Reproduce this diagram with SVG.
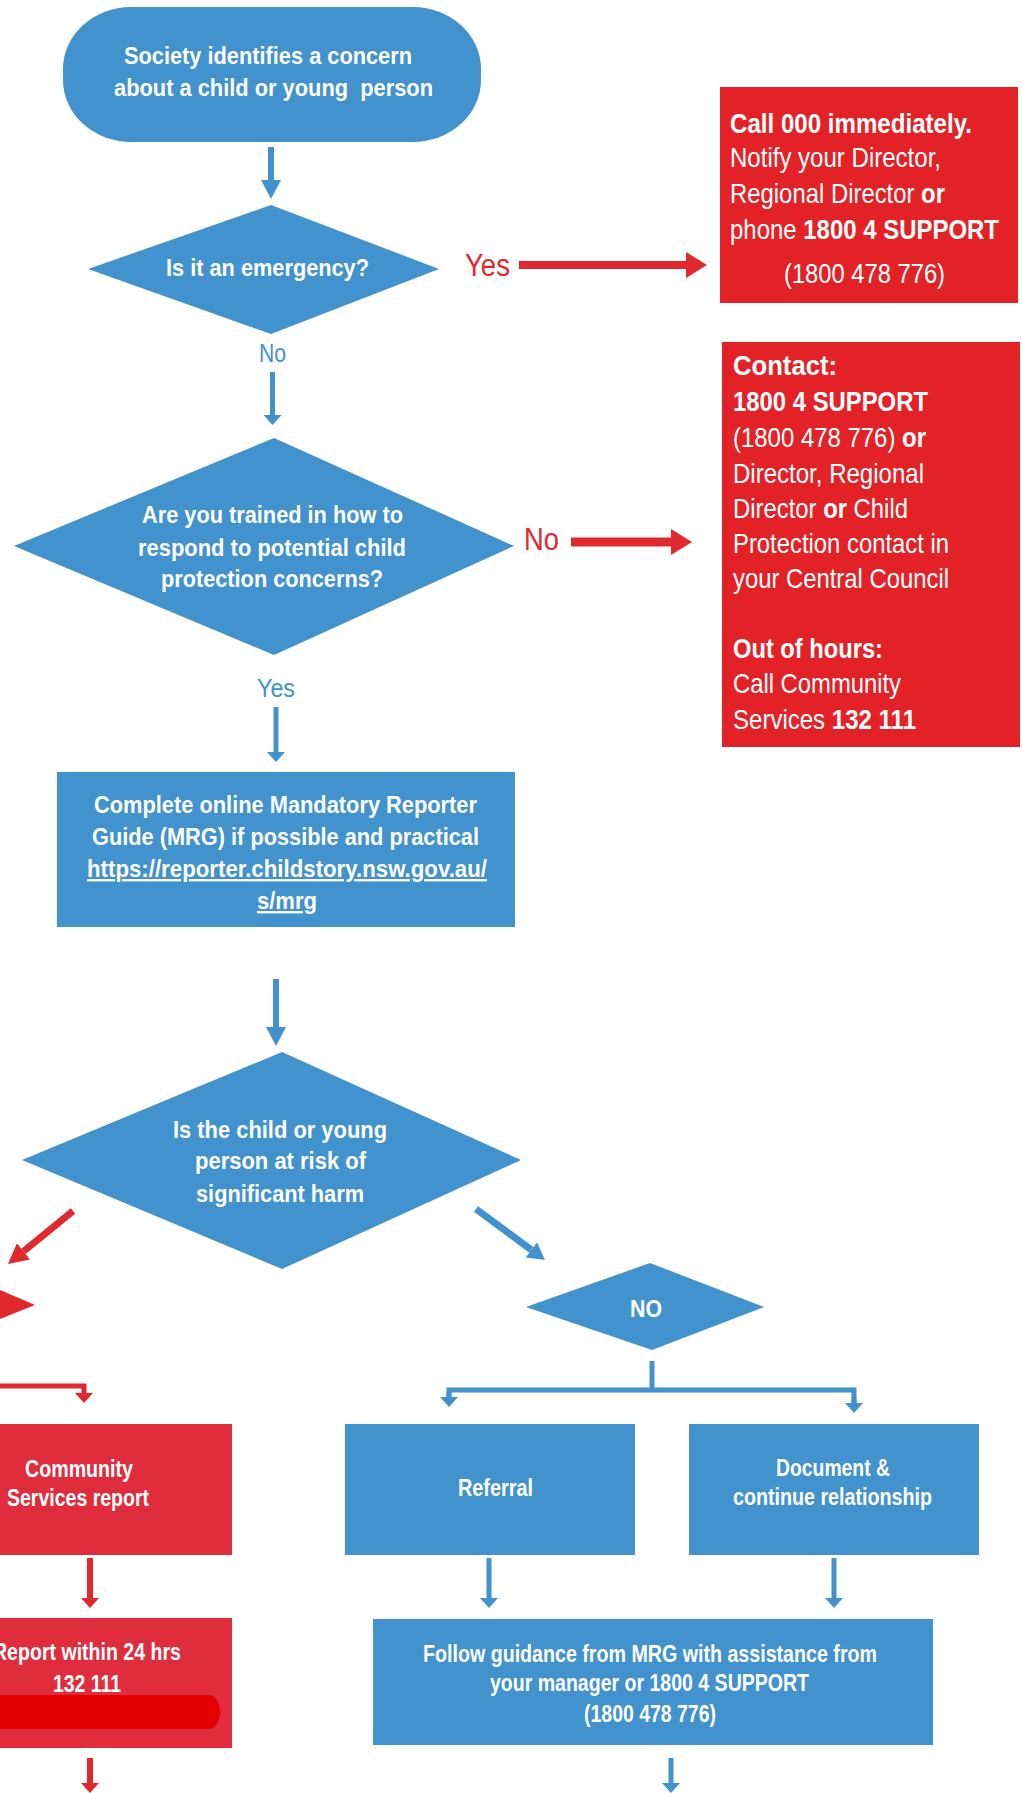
<svg xmlns="http://www.w3.org/2000/svg" width="1022" height="1793" viewBox="0 0 1022 1793">
<style>
.b{fill:#4192cd}
.rt{fill:#e32228}
.rb{fill:#df2d3d}
.t{font-family:"Liberation Sans Narrow","Liberation Sans",Arial,sans-serif;font-size:24px;font-weight:bold;fill:#fff}
.rr{font-size:28px;font-weight:normal}
.bo{font-weight:bold}
.lab{font-family:"Liberation Sans Narrow","Liberation Sans",Arial,sans-serif;font-weight:normal}
.lb{fill:#4192cd;font-size:26px}
.lr{fill:#e0282f;font-size:31px}
.u{text-decoration:underline}
.cb{stroke:#4192cd;fill:none}
.cr{stroke:#e0282f;fill:none}
</style>
<defs>
<marker id="mbL" markerUnits="userSpaceOnUse" markerWidth="19" markerHeight="20" refX="0" refY="10" orient="auto"><path d="M0,0 L19,10 L0,20 z" fill="#4192cd"/></marker>
<marker id="mbS" markerUnits="userSpaceOnUse" markerWidth="10" markerHeight="18" refX="0" refY="9" orient="auto"><path d="M0,0 L10,9 L0,18 z" fill="#4192cd"/></marker>
<marker id="mbD" markerUnits="userSpaceOnUse" markerWidth="17" markerHeight="19" refX="0" refY="9.5" orient="auto"><path d="M0,0 L17,9.5 L0,19 z" fill="#4192cd"/></marker>
<marker id="mrL" markerUnits="userSpaceOnUse" markerWidth="21" markerHeight="26" refX="0" refY="13" orient="auto"><path d="M0,0 L21,13 L0,26 z" fill="#e0282f"/></marker>
<marker id="mrS" markerUnits="userSpaceOnUse" markerWidth="10" markerHeight="18" refX="0" refY="9" orient="auto"><path d="M0,0 L10,9 L0,18 z" fill="#e0282f"/></marker>
<marker id="mrD" markerUnits="userSpaceOnUse" markerWidth="20" markerHeight="21" refX="0" refY="10.5" orient="auto"><path d="M0,0 L20,10.5 L0,21 z" fill="#e0282f"/></marker>
</defs>
<rect width="1022" height="1793" fill="#fff"/>

<g id="connectors">
<line class="cb" x1="271" y1="147" x2="271" y2="180" stroke-width="6" marker-end="url(#mbL)"/>
<line class="cr" x1="519" y1="265" x2="686" y2="265" stroke-width="8" marker-end="url(#mrL)"/>
<line class="cb" x1="272.5" y1="372" x2="272.5" y2="415" stroke-width="5" marker-end="url(#mbS)"/>
<line class="cr" x1="571" y1="542" x2="671" y2="542" stroke-width="9" marker-end="url(#mrL)"/>
<line class="cb" x1="276" y1="707" x2="276" y2="752" stroke-width="5" marker-end="url(#mbS)"/>
<line class="cb" x1="276" y1="979" x2="276" y2="1027" stroke-width="6" marker-end="url(#mbL)"/>
<line class="cr" x1="73" y1="1211" x2="23.5" y2="1251.4" stroke-width="7" marker-end="url(#mrD)"/>
<line class="cb" x1="476" y1="1209" x2="531.3" y2="1249.9" stroke-width="7" marker-end="url(#mbD)"/>
<polygon points="0,1290 35,1305 0,1319" fill="#e0282f"/>
<path class="cr" d="M-5,1386 H84 V1393" stroke-width="5" marker-end="url(#mrS)"/>
<line class="cb" x1="652" y1="1361" x2="652" y2="1390" stroke-width="5"/>
<path class="cb" d="M449,1397 V1390 H854 V1403" stroke-width="5"/>
<line class="cb" x1="449" y1="1392" x2="449" y2="1397" stroke-width="5" marker-end="url(#mbS)"/>
<line class="cb" x1="854" y1="1398" x2="854" y2="1403" stroke-width="5" marker-end="url(#mbS)"/>
<line class="cb" x1="489" y1="1558" x2="489" y2="1598" stroke-width="5" marker-end="url(#mbS)"/>
<line class="cb" x1="834" y1="1558" x2="834" y2="1598" stroke-width="5" marker-end="url(#mbS)"/>
<line class="cb" x1="671" y1="1758" x2="671" y2="1783" stroke-width="5" marker-end="url(#mbS)"/>
<line class="cr" x1="90" y1="1558" x2="90" y2="1598" stroke-width="6" marker-end="url(#mrS)"/>
<line class="cr" x1="90" y1="1758" x2="90" y2="1783" stroke-width="6" marker-end="url(#mrS)"/>
<text class="lab lr" x="465" y="276" textLength="45" lengthAdjust="spacingAndGlyphs">Yes</text>
<text class="lab lb" x="259" y="362" textLength="27" lengthAdjust="spacingAndGlyphs">No</text>
<text class="lab lr" x="524" y="550" textLength="35" lengthAdjust="spacingAndGlyphs">No</text>
<text class="lab lb" x="257" y="697" textLength="38" lengthAdjust="spacingAndGlyphs">Yes</text>
</g>

<g id="start">
<rect class="b" x="63" y="7" width="418" height="135" rx="68" ry="62"/>
<text class="t" x="124" y="64" font-size="25" textLength="288" lengthAdjust="spacingAndGlyphs">Society identifies a concern</text>
<text class="t" x="114" y="96" font-size="25" xml:space="preserve" textLength="319" lengthAdjust="spacingAndGlyphs">about a child or young  person</text>
</g>

<g id="emergency">
<polygon class="b" points="271,205 439,269 271,334 88,269"/>
<text class="t" x="166" y="276" font-size="25" textLength="203" lengthAdjust="spacingAndGlyphs">Is it an emergency?</text>
</g>

<g id="call000">
<rect class="rt" x="720" y="87" width="298" height="216"/>
<text class="t rr bo" x="730" y="133" textLength="242" lengthAdjust="spacingAndGlyphs">Call 000 immediately.</text>
<text class="t rr" x="730" y="167" textLength="211" lengthAdjust="spacingAndGlyphs">Notify your Director,</text>
<text class="t rr" x="730" y="203" textLength="215" lengthAdjust="spacingAndGlyphs">Regional Director <tspan class="bo">or</tspan></text>
<text class="t rr" x="730" y="239" textLength="269" lengthAdjust="spacingAndGlyphs">phone <tspan class="bo">1800 4 SUPPORT</tspan></text>
<text class="t rr" x="784" y="283" textLength="161" lengthAdjust="spacingAndGlyphs">(1800 478 776)</text>
</g>

<g id="trained">
<polygon class="b" points="274,438 514,546 274,655 14,546"/>
<text class="t" x="142" y="523" textLength="261" lengthAdjust="spacingAndGlyphs">Are you trained in how to</text>
<text class="t" x="138" y="556" textLength="268" lengthAdjust="spacingAndGlyphs">respond to potential child</text>
<text class="t" x="161" y="587" textLength="222" lengthAdjust="spacingAndGlyphs">protection concerns?</text>
</g>

<g id="contact">
<rect class="rt" x="722" y="342" width="298" height="405"/>
<text class="t rr bo" x="733" y="375" textLength="104" lengthAdjust="spacingAndGlyphs">Contact:</text>
<text class="t rr bo" x="733" y="411" textLength="195" lengthAdjust="spacingAndGlyphs">1800 4 SUPPORT</text>
<text class="t rr" x="733" y="447" textLength="193" lengthAdjust="spacingAndGlyphs">(1800 478 776) <tspan class="bo">or</tspan></text>
<text class="t rr" x="733" y="483" textLength="191" lengthAdjust="spacingAndGlyphs">Director, Regional</text>
<text class="t rr" x="733" y="518" textLength="175" lengthAdjust="spacingAndGlyphs">Director <tspan class="bo">or</tspan> Child</text>
<text class="t rr" x="733" y="553" textLength="216" lengthAdjust="spacingAndGlyphs">Protection contact in</text>
<text class="t rr" x="733" y="588" textLength="216" lengthAdjust="spacingAndGlyphs">your Central Council</text>
<text class="t rr bo" x="733" y="658" textLength="150" lengthAdjust="spacingAndGlyphs">Out of hours:</text>
<text class="t rr" x="733" y="693" textLength="168" lengthAdjust="spacingAndGlyphs">Call Community</text>
<text class="t rr" x="733" y="729" textLength="183" lengthAdjust="spacingAndGlyphs">Services <tspan class="bo">132 111</tspan></text>
</g>

<g id="mrg">
<rect class="b" x="57" y="772" width="458" height="155"/>
<text class="t" x="94" y="813" textLength="383" lengthAdjust="spacingAndGlyphs">Complete online Mandatory Reporter</text>
<text class="t" x="92" y="845" textLength="387" lengthAdjust="spacingAndGlyphs">Guide (MRG) if possible and practical</text>
<text class="t u" x="87" y="877" textLength="400" lengthAdjust="spacingAndGlyphs">https://reporter.childstory.nsw.gov.au/</text>
<text class="t u" x="257" y="909" textLength="60" lengthAdjust="spacingAndGlyphs">s/mrg</text>
</g>

<g id="risk">
<polygon class="b" points="282,1052 521,1160 282,1269 22,1160"/>
<text class="t" x="173" y="1138" textLength="214" lengthAdjust="spacingAndGlyphs">Is the child or young</text>
<text class="t" x="195" y="1169" textLength="171" lengthAdjust="spacingAndGlyphs">person at risk of</text>
<text class="t" x="196" y="1202" textLength="168" lengthAdjust="spacingAndGlyphs">significant harm</text>
</g>

<g id="no-decision">
<polygon class="b" points="650,1263 764,1307 652,1350 526,1307"/>
<text class="t" x="630" y="1317" font-size="25" textLength="32" lengthAdjust="spacingAndGlyphs">NO</text>
</g>

<g id="cs-report">
<rect class="rb" x="-2" y="1424" width="234" height="131"/>
<text class="t" x="25" y="1477" textLength="108" lengthAdjust="spacingAndGlyphs">Community</text>
<text class="t" x="7" y="1506" textLength="142" lengthAdjust="spacingAndGlyphs">Services report</text>
</g>

<g id="report-24">
<rect class="rb" x="-2" y="1618" width="234" height="130"/>
<text class="t" x="-7" y="1660" textLength="188" lengthAdjust="spacingAndGlyphs">Report within 24 hrs</text>
<text class="t" x="53" y="1692" textLength="68" lengthAdjust="spacingAndGlyphs">132 111</text>
<rect x="-30" y="1695" width="250" height="34" rx="11" ry="17" fill="#e30000"/>
</g>

<g id="referral">
<rect class="b" x="345" y="1424" width="290" height="131"/>
<text class="t" x="458" y="1496" textLength="75" lengthAdjust="spacingAndGlyphs">Referral</text>
</g>

<g id="document">
<rect class="b" x="689" y="1424" width="290" height="131"/>
<text class="t" x="776" y="1476" textLength="114" lengthAdjust="spacingAndGlyphs">Document &amp;</text>
<text class="t" x="733" y="1505" textLength="199" lengthAdjust="spacingAndGlyphs">continue relationship</text>
</g>

<g id="follow">
<rect class="b" x="373" y="1619" width="560" height="126"/>
<text class="t" x="423" y="1662" textLength="454" lengthAdjust="spacingAndGlyphs">Follow guidance from MRG with assistance from</text>
<text class="t" x="490" y="1691" textLength="319" lengthAdjust="spacingAndGlyphs">your manager or 1800 4 SUPPORT</text>
<text class="t" x="584" y="1722" textLength="132" lengthAdjust="spacingAndGlyphs">(1800 478 776)</text>
</g>
</svg>
